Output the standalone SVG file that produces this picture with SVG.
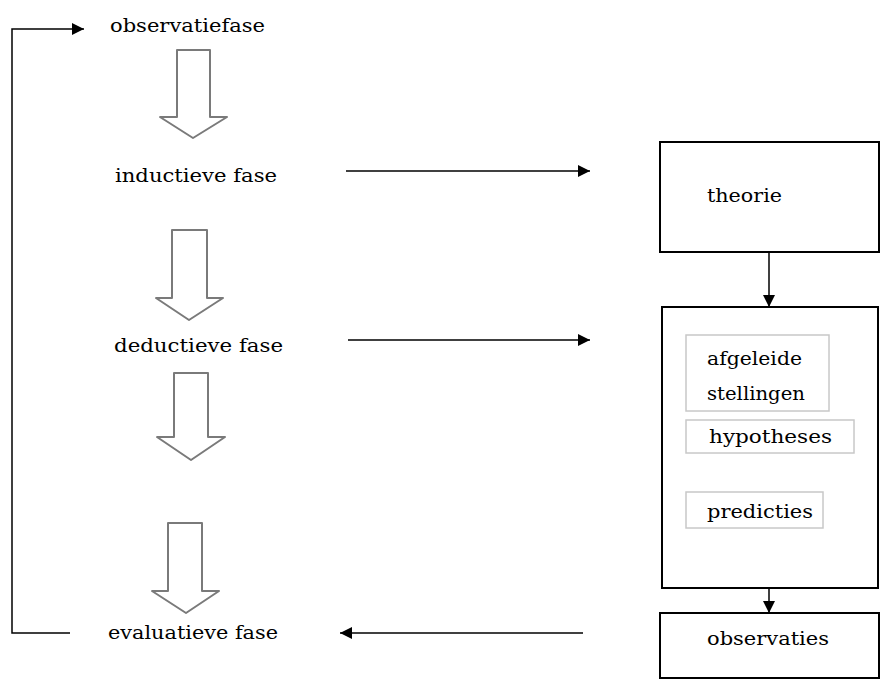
<svg xmlns="http://www.w3.org/2000/svg" width="885" height="686" viewBox="0 0 885 686">
<style>
text{font-family:"DejaVu Serif","Liberation Serif","Times New Roman",serif;font-size:19px;fill:#000}
.box{fill:#fff;stroke:#000;stroke-width:2}
.inner{fill:#fff;stroke:#c8c8c8;stroke-width:1.5}
.blk{fill:#fff;stroke:#7a7a7a;stroke-width:2;stroke-linejoin:round}
.ln{fill:none;stroke:#000;stroke-width:1.5}
</style>
<defs>
<marker id="ahb" viewBox="0 0 10 10" refX="10" refY="5" markerWidth="14" markerHeight="12" markerUnits="userSpaceOnUse" orient="auto">
<path d="M0,0 L10,5 L0,10 z" fill="#000"/>
</marker>
</defs>
<g id="connectors">
<polyline class="ln" points="70,633 12,633 12,29 84,29" marker-end="url(#ahb)"/>
<line class="ln" x1="346" y1="171" x2="590" y2="171" marker-end="url(#ahb)"/>
<line class="ln" x1="348" y1="340" x2="590" y2="340" marker-end="url(#ahb)"/>
<line class="ln" x1="583" y1="633" x2="340" y2="633" marker-end="url(#ahb)"/>
<line class="ln" x1="769" y1="252" x2="769" y2="307" marker-end="url(#ahb)"/>
<line class="ln" x1="769" y1="588" x2="769" y2="613" marker-end="url(#ahb)"/>
<path class="blk" d="M177,50 H210 V117 H227 L193,138 L160,117 H177 Z"/>
<path class="blk" d="M172,230 H207 V298 H223 L189,320 L156,298 H172 Z"/>
<path class="blk" d="M174,373 H208 V437 H225 L191,460 L157,437 H174 Z"/>
<path class="blk" d="M168,523 H202 V591 H219 L186,613 L152,591 H168 Z"/>
</g>
<g id="observatiefase"><text x="110" y="32" textLength="155" lengthAdjust="spacingAndGlyphs">observatiefase</text></g>
<g id="inductieve"><text x="115" y="182" textLength="162" lengthAdjust="spacingAndGlyphs">inductieve fase</text></g>
<g id="deductieve"><text x="114" y="352" textLength="169" lengthAdjust="spacingAndGlyphs">deductieve fase</text></g>
<g id="evaluatieve"><text x="108" y="639" textLength="170" lengthAdjust="spacingAndGlyphs">evaluatieve fase</text></g>
<g id="theorie">
<rect class="box" x="660" y="142" width="219" height="110"/>
<text x="707" y="202" textLength="75" lengthAdjust="spacingAndGlyphs">theorie</text>
</g>
<g id="afleidingen">
<rect class="box" x="662" y="307" width="216" height="281"/>
<g id="afgeleide">
<rect class="inner" x="686" y="335" width="143" height="76"/>
<text x="707" y="365" textLength="95" lengthAdjust="spacingAndGlyphs">afgeleide</text>
<text x="707" y="400" textLength="98" lengthAdjust="spacingAndGlyphs">stellingen</text>
</g>
<g id="hypotheses">
<rect class="inner" x="686" y="420" width="168" height="33"/>
<text x="709" y="443" textLength="123" lengthAdjust="spacingAndGlyphs">hypotheses</text>
</g>
<g id="predicties">
<rect class="inner" x="686" y="492" width="137" height="36"/>
<text x="707" y="518" textLength="106" lengthAdjust="spacingAndGlyphs">predicties</text>
</g>
</g>
<g id="observaties">
<rect class="box" x="660" y="613" width="219" height="65"/>
<text x="707" y="645" textLength="122" lengthAdjust="spacingAndGlyphs">observaties</text>
</g>
</svg>
